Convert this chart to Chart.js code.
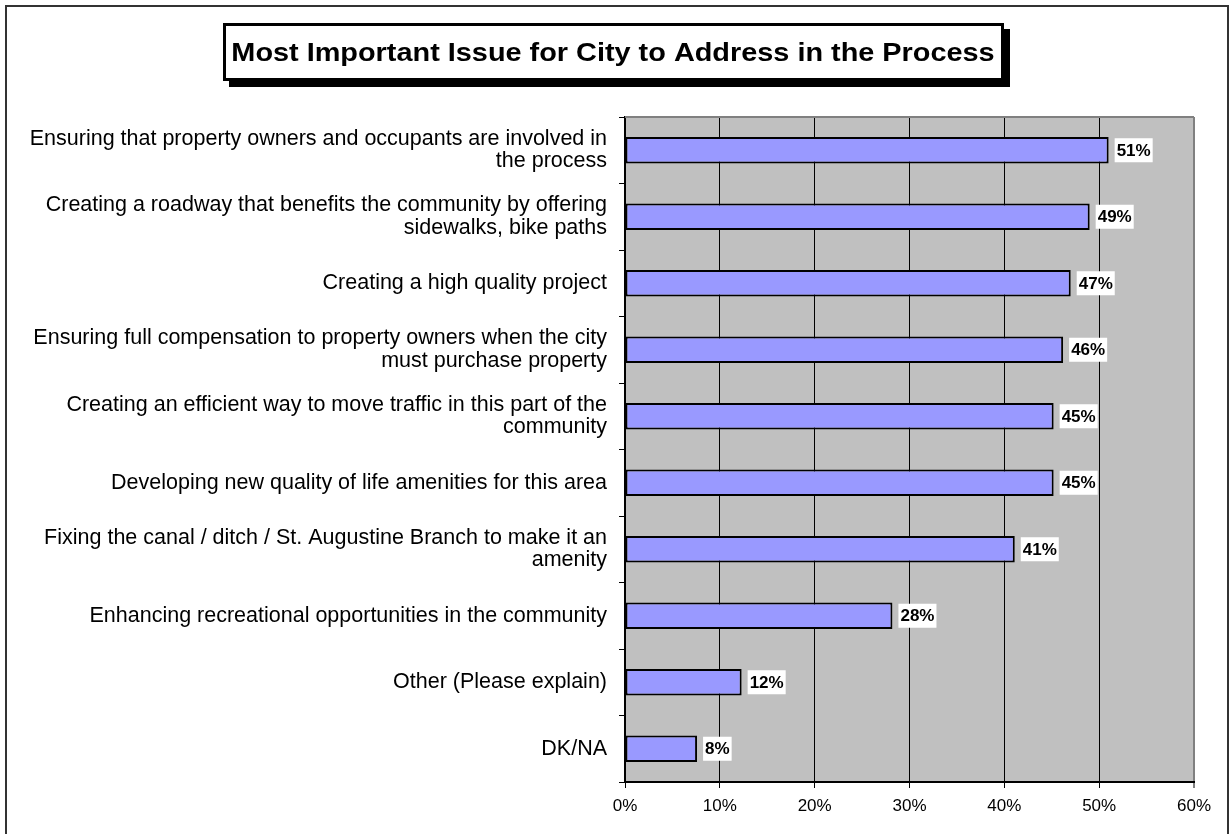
<!DOCTYPE html>
<html>
<head>
<meta charset="utf-8">
<script src="https://cdn.jsdelivr.net/npm/chart.js@4"></script>
<style>
  html, body { margin: 0; padding: 0; background: #fff; }
  #wrap { position: relative; width: 1231px; height: 834px; }
</style>
</head>
<body>
<div id="wrap"><canvas id="c"></canvas></div>
<script>
const chartTitle = "Most Important Issue for City to Address in the Process";
const categories = [
  ["Ensuring that property owners and occupants are involved in", "the process"],
  ["Creating a roadway that benefits the community by offering", "sidewalks, bike paths"],
  "Creating a high quality project",
  ["Ensuring full compensation to property owners when the city", "must purchase property"],
  ["Creating an efficient way to move traffic in this part of the", "community"],
  "Developing new quality of life amenities for this area",
  ["Fixing the canal / ditch / St. Augustine Branch to make it an", "amenity"],
  "Enhancing recreational opportunities in the community",
  "Other (Please explain)",
  "DK/NA"
];
const values = [51.0, 49.0, 47.0, 46.2, 45.2, 45.2, 41.1, 28.2, 12.3, 7.6];
const xTicks = [0, 10, 20, 30, 40, 50, 60];

const FONT = '"Liberation Sans", Arial, sans-serif';

const decor = {
  id: 'decor',
  beforeDraw(chart) {
    const { ctx, chartArea: a } = chart;
    ctx.save();
    ctx.fillStyle = '#fff';
    ctx.fillRect(0, 0, chart.width, chart.height);
    // outer frame
    ctx.strokeStyle = '#333';
    ctx.lineWidth = 2;
    ctx.strokeRect(6, 6, 1222, 900);
    // plot background
    ctx.fillStyle = '#C0C0C0';
    ctx.fillRect(a.left, a.top, a.right - a.left, a.bottom - a.top);
    // title box with shadow
    ctx.fillStyle = '#000';
    ctx.fillRect(229, 29, 781, 58);
    ctx.fillStyle = '#fff';
    ctx.fillRect(223, 23, 781, 58);
    ctx.strokeStyle = '#000';
    ctx.lineWidth = 3;
    ctx.strokeRect(224.5, 24.5, 778, 55);
    ctx.fillStyle = '#000';
    ctx.font = 'bold 26px ' + FONT;
    ctx.textAlign = 'center';
    ctx.textBaseline = 'middle';
    ctx.translate(613, 54);
    ctx.scale(1.11, 1);
    ctx.fillText(chartTitle, 0, 0);
    ctx.restore();
  },
  afterDatasetsDraw(chart) {
    const { ctx, chartArea: a } = chart;
    ctx.save();
    // top gray border
    ctx.strokeStyle = '#808080';
    ctx.lineWidth = 2;
    ctx.beginPath();
    ctx.moveTo(a.left, a.top);
    ctx.lineTo(a.right, a.top);
    ctx.stroke();
    // data labels
    const meta = chart.getDatasetMeta(0);
    ctx.font = 'bold 17px ' + FONT;
    ctx.textBaseline = 'middle';
    ctx.textAlign = 'left';
    meta.data.forEach((bar, i) => {
      const txt = Math.round(values[i]) + '%';
      const w = ctx.measureText(txt).width;
      const x = bar.x + 6;
      const y = bar.y;
      ctx.fillStyle = '#fff';
      ctx.fillRect(x, y - 12, w + 4, 24);
      ctx.fillStyle = '#000';
      ctx.fillText(txt, x + 2, y + 1);
    });
    ctx.restore();
  }
};

new Chart(document.getElementById('c'), {
  type: 'bar',
  data: {
    labels: categories,
    datasets: [{
      data: values,
      backgroundColor: '#9999FF',
      borderColor: '#000',
      borderWidth: 2,
      borderSkipped: false,
      barPercentage: 0.40,
      categoryPercentage: 1.0
    }]
  },
  options: {
    indexAxis: 'y',
    responsive: true,
    maintainAspectRatio: false,
    animation: false,
    layout: { padding: { top: 117, right: 37, bottom: 0, left: 0 } },
    plugins: { legend: { display: false }, title: { display: false }, tooltip: { enabled: false } },
    scales: {
      x: {
        min: 0, max: 60,
        afterBuildTicks(scale) { scale.ticks = xTicks.map(v => ({ value: v })); },
        afterFit(scale) { scale.height = 52; },
        ticks: {
          callback: v => v + '%',
          color: '#000',
          font: { family: FONT, size: 17 },
          padding: 8,
          maxRotation: 0
        },
        grid: {
          color: ctx => (ctx.tick && ctx.tick.value === 60) ? '#808080' : '#000',
          lineWidth: ctx => (ctx.tick && ctx.tick.value === 60) ? 2 : 1,
          tickColor: '#000',
          tickLength: 6,
          tickWidth: 1
        },
        border: { color: '#000', width: 2 }
      },
      y: {
        afterFit(scale) { scale.width = 625; },
        ticks: {
          color: '#000',
          font: { family: FONT, size: 21.5, lineHeight: 1.05 },
          padding: 12,
          autoSkip: false
        },
        grid: {
          offset: true,
          drawOnChartArea: false,
          color: '#000',
          tickLength: 6,
          tickWidth: 1
        },
        border: { color: '#000', width: 2 }
      }
    }
  },
  plugins: [decor]
});
</script>
</body>
</html>
